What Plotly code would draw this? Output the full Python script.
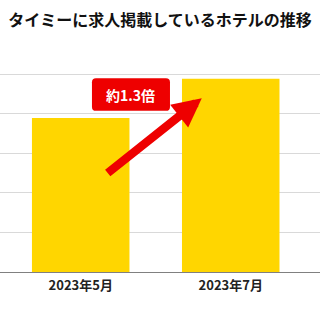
import plotly.graph_objects as go

categories = ["2023年5月", "2023年7月"]
hotel_counts = [3.89, 4.88]
grid_ticks = [0, 1, 2, 3, 4, 5]
title_text = "タイミーに求人掲載しているホテルの推移"
ratio_label = "約1.3倍"

BAR = "#FFD600"
RED = "#EE0000"
FONT = "Noto Sans CJK JP"

fig = go.Figure()
fig.add_trace(go.Bar(
    x=[0, 1], y=hotel_counts, width=0.65,
    marker=dict(color=BAR, line=dict(width=0)),
    hoverinfo="skip",
))

# rounded label box (data coords)
x0, x1, y0, y1 = 0.075, 0.595, 4.07, 4.89
rx, ry = 0.027, 0.10
path = (f"M {x0+rx},{y0} L {x1-rx},{y0} Q {x1},{y0} {x1},{y0+ry} "
        f"L {x1},{y1-ry} Q {x1},{y1} {x1-rx},{y1} L {x0+rx},{y1} "
        f"Q {x0},{y1} {x0},{y1-ry} L {x0},{y0+ry} Q {x0},{y0} {x0+rx},{y0} Z")
fig.add_shape(type="path", path=path, xref="x", yref="y",
              fillcolor=RED, line=dict(width=0), layer="above")
fig.add_annotation(x=(x0+x1)/2, y=(y0+y1)/2, xref="x", yref="y",
                   text=f"<b>{ratio_label}</b>", showarrow=False,
                   font=dict(family=FONT, size=14, color="white"))

# arrow
fig.add_annotation(x=0.807, y=4.39, ax=0.170, ay=2.47,
                   xref="x", yref="y", axref="x", ayref="y",
                   text="", showarrow=True, arrowhead=2, arrowsize=0.68,
                   arrowwidth=8.5, arrowcolor=RED)

fig.update_layout(
    width=320, height=320,
    margin=dict(l=0, r=0, t=60, b=48),
    paper_bgcolor="white", plot_bgcolor="white",
    showlegend=False,
    title=dict(text=f"<b>{title_text}</b>", x=0.5, xanchor="center",
               y=1 - 20.5/320, yanchor="middle",
               font=dict(family=FONT, size=16, color="#111")),
    xaxis=dict(range=[-0.538, 1.595], tickmode="array", tickvals=[0, 1],
               ticktext=[f"<b>{c}</b>" for c in categories],
               tickfont=dict(family=FONT, size=13, color="#222"),
               ticklabelstandoff=1,
               showgrid=False, showline=True, linecolor="#808080", linewidth=1,
               ticks="", zeroline=False, fixedrange=True),
    yaxis=dict(range=[0, 5.354], tickmode="array", tickvals=grid_ticks,
               showticklabels=False, showgrid=True, gridcolor="#d9d9d9",
               gridwidth=1, zeroline=False, showline=False, fixedrange=True),
)

fig.write_html("out.html", config={"displayModeBar": False})
